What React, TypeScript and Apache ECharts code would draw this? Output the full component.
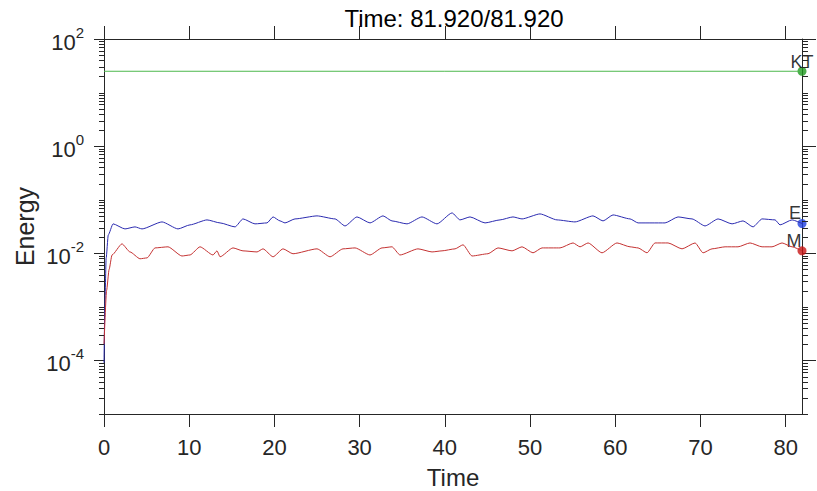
import React, { useEffect, useRef } from 'react';
import * as echarts from 'echarts';

const TITLE = 'Time: 81.920/81.920';
const X_NAME = 'Time';
const Y_NAME = 'Energy';
const X_MIN = 0;
const X_MAX = 81.92;
const Y_MIN = 1e-5;
const Y_MAX = 100;
const X_TICKS = [0, 10, 20, 30, 40, 50, 60, 70, 80];
const Y_LABEL_TICKS = [1e-4, 1e-2, 1, 100];

const E_TIME = [0, 0.1, 0.25, 0.5, 1.06, 2.46, 3.64, 4.46, 6.81, 8.69, 10.09, 12.09, 13.62, 15.38, 16.31, 17.72, 19.13, 19.84, 20.66, 21.24, 22.42, 25.0, 27.11, 28.29, 29.69, 31.22, 32.75, 33.8, 35.56, 37.32, 39.08, 40.85, 41.78, 42.96, 44.72, 46.48, 48.0, 49.06, 51.17, 53.17, 55.28, 57.39, 58.57, 59.74, 61.74, 62.68, 64.32, 65.85, 67.37, 69.01, 70.54, 72.07, 73.71, 75.0, 76.17, 77.23, 78.76, 79.34, 80.75, 81.92];
const E_VAL = [0.00009, 0.001, 0.008, 0.022, 0.0354, 0.0285, 0.0311, 0.0285, 0.0385, 0.0285, 0.0339, 0.042, 0.0369, 0.0311, 0.0438, 0.0354, 0.0369, 0.0477, 0.0402, 0.0369, 0.0438, 0.0499, 0.0438, 0.0324, 0.0477, 0.0369, 0.0499, 0.0402, 0.0354, 0.0477, 0.0354, 0.0567, 0.042, 0.0477, 0.0369, 0.042, 0.0477, 0.0438, 0.0543, 0.042, 0.0385, 0.0499, 0.0402, 0.052, 0.0438, 0.0369, 0.0369, 0.0369, 0.0477, 0.0438, 0.0324, 0.0438, 0.0354, 0.0402, 0.0311, 0.0438, 0.042, 0.0339, 0.042, 0.036];

const M_TIME = [0, 0.3, 0.6, 0.94, 2.11, 3.05, 4.23, 5.05, 5.99, 7.51, 9.15, 10.09, 11.27, 12.79, 13.26, 13.62, 15.14, 16.31, 17.96, 18.66, 19.84, 21.01, 22.18, 25.0, 26.53, 28.05, 29.46, 31.22, 32.63, 33.8, 34.74, 36.85, 38.5, 39.67, 41.2, 42.14, 43.19, 45.07, 46.24, 47.89, 49.06, 50.35, 51.41, 53.52, 55.05, 55.87, 56.81, 58.45, 60.21, 61.74, 62.68, 63.73, 64.67, 66.2, 67.84, 69.37, 70.31, 71.36, 72.89, 74.41, 75.82, 77.23, 78.4, 79.58, 80.75, 81.92];
const M_VAL = [0.0002, 0.002, 0.005, 0.0093, 0.015, 0.0106, 0.0079, 0.0082, 0.0126, 0.0132, 0.0089, 0.0093, 0.0132, 0.0093, 0.0111, 0.0086, 0.0126, 0.0111, 0.0106, 0.0121, 0.0086, 0.0121, 0.0098, 0.0121, 0.0086, 0.0121, 0.0126, 0.0093, 0.0126, 0.0132, 0.0093, 0.0121, 0.0106, 0.0111, 0.0121, 0.0144, 0.0089, 0.0098, 0.0126, 0.0111, 0.0132, 0.0102, 0.0126, 0.0126, 0.0156, 0.0132, 0.0156, 0.0102, 0.0156, 0.0132, 0.0126, 0.0102, 0.0156, 0.0156, 0.0121, 0.0156, 0.0102, 0.0121, 0.0132, 0.0132, 0.0156, 0.0132, 0.0132, 0.0156, 0.0132, 0.0111];

const KT_TIME = [0, 40, 81.92];
const KT_VAL = [25, 25, 25];

const END_LABELS = ['KT', 'E', 'M'];

const FONT = '"Liberation Sans", Arial, Helvetica, sans-serif';
const AXIS_COLOR = '#262626';

// minor tick values: 2..9 x 10^n, and the unlabelled decades
function minorTickValues(): number[] {
  const out: number[] = [];
  for (let n = -5; n <= 1; n++) {
    for (let k = 1; k <= 9; k++) {
      if (k === 1 && n % 2 === 0) continue;
      out.push(Number(`${k}e${n}`));
    }
  }
  return out;
}

export default function App() {
  const ref = useRef<HTMLDivElement>(null);

  useEffect(() => {
    document.body.style.margin = '0';
    if (!ref.current) return;
    const chart = echarts.init(ref.current, undefined, { renderer: 'svg' });
    const MINOR = minorTickValues();
    const pair = (t: number[], v: number[]) => t.map((x, i) => [x, v[i]]);

    // minor ticks drawn through the chart's own log scale (api.coord)
    const minorTickSeries = (xVal: number, dir: number, len: number) => ({
      type: 'custom',
      xAxisIndex: 0,
      yAxisIndex: 0,
      clip: false,
      silent: true,
      z: 5,
      data: MINOR.map((v) => [xVal, v]),
      renderItem: (_p: any, api: any) => {
        const c = api.coord([api.value(0), api.value(1)]);
        const x = Math.round(c[0]);
        const y = Math.round(c[1]) + 0.5;
        return {
          type: 'line',
          shape: { x1: x, y1: y, x2: x + dir * len, y2: y },
          style: { stroke: AXIS_COLOR, lineWidth: 1 },
        };
      },
    });

    const option: any = {
      animation: false,
      backgroundColor: '#ffffff',
      title: {
        text: TITLE,
        left: 454,
        textAlign: 'center',
        top: 6,
        padding: 0,
        textStyle: { fontSize: 24, fontWeight: 'normal', color: '#000', fontFamily: FONT },
      },
      grid: { left: 104, right: 15, top: 39, bottom: 77, containLabel: false, outerBoundsMode: 'none' },
      xAxis: [
        {
          type: 'value',
          min: X_MIN,
          max: X_MAX,
          position: 'bottom',
          name: X_NAME,
          nameLocation: 'middle',
          nameGap: 51,
          nameMoveOverlap: false,
          nameTextStyle: { fontSize: 24, color: AXIS_COLOR, fontFamily: FONT },
          axisLine: { show: true, onZero: false, lineStyle: { color: AXIS_COLOR, width: 1 } },
          axisTick: { show: true, customValues: X_TICKS, length: 13, lineStyle: { color: AXIS_COLOR } },
          axisLabel: { customValues: X_TICKS, margin: 22, fontSize: 22, color: AXIS_COLOR, fontFamily: FONT },
          splitLine: { show: false },
        },
        {
          type: 'value',
          min: X_MIN,
          max: X_MAX,
          position: 'top',
          axisLine: { show: true, onZero: false, lineStyle: { color: AXIS_COLOR, width: 1 } },
          axisTick: { show: true, customValues: X_TICKS, length: 13, lineStyle: { color: AXIS_COLOR } },
          axisLabel: { show: false },
          splitLine: { show: false },
        },
      ],
      yAxis: [
        {
          type: 'log',
          logBase: 10,
          min: Y_MIN,
          max: Y_MAX,
          position: 'left',
          splitLine: { show: false },
          name: Y_NAME,
          nameLocation: 'middle',
          nameGap: 67,
          nameMoveOverlap: false,
          nameTextStyle: { fontSize: 25, color: AXIS_COLOR, fontFamily: FONT },
          axisLine: { show: true, onZero: false, lineStyle: { color: AXIS_COLOR, width: 1 } },
          axisTick: { show: true, customValues: Y_LABEL_TICKS, length: 10, lineStyle: { color: AXIS_COLOR } },
          axisLabel: {
            customValues: Y_LABEL_TICKS,
            margin: 20,
            formatter: (v: number) => `{b|10}{s|${Math.round(Math.log10(v))}}`,
            rich: {
              b: { fontSize: 22, color: AXIS_COLOR, fontFamily: FONT, lineHeight: 28, verticalAlign: 'bottom' },
              s: { fontSize: 15, color: AXIS_COLOR, fontFamily: FONT, lineHeight: 16, verticalAlign: 'top' },
            },
          },
        },
        {
          type: 'log',
          logBase: 10,
          min: Y_MIN,
          max: Y_MAX,
          position: 'right',
          splitLine: { show: false },
          axisLine: { show: true, onZero: false, lineStyle: { color: AXIS_COLOR, width: 1 } },
          axisTick: { show: true, customValues: Y_LABEL_TICKS, length: 14, lineStyle: { color: AXIS_COLOR } },
          axisLabel: { show: false },
        },
      ],
      series: [
        minorTickSeries(X_MIN, -1, 5),
        minorTickSeries(X_MAX, 1, 6),
        {
          type: 'line',
          name: 'KT',
          data: pair(KT_TIME, KT_VAL),
          showSymbol: false,
          lineStyle: { color: '#4cb84c', width: 1 },
          itemStyle: { color: '#4cb84c' },
        },
        {
          type: 'line',
          name: 'E',
          data: pair(E_TIME, E_VAL),
          showSymbol: false,
          smooth: 0.2,
          smoothMonotone: 'x',
          lineStyle: { color: '#2b2bb0', width: 1 },
          itemStyle: { color: '#2b2bb0' },
        },
        {
          type: 'line',
          name: 'M',
          data: pair(M_TIME, M_VAL),
          showSymbol: false,
          smooth: 0.2,
          smoothMonotone: 'x',
          lineStyle: { color: '#c43232', width: 1 },
          itemStyle: { color: '#c43232' },
        },
        {
          type: 'scatter',
          clip: false,
          symbolSize: 9,
          data: [
            {
              value: [KT_TIME[KT_TIME.length - 1], KT_VAL[KT_VAL.length - 1]],
              itemStyle: { color: '#1f9a1f' },
              label: { formatter: END_LABELS[0], position: 'top', offset: [0, 9] },
            },
            {
              value: [E_TIME[E_TIME.length - 1], E_VAL[E_VAL.length - 1]],
              itemStyle: { color: '#1f3fe0' },
              label: { formatter: END_LABELS[1], position: 'top', offset: [-7, 8] },
            },
            {
              value: [M_TIME[M_TIME.length - 1], M_VAL[M_VAL.length - 1]],
              itemStyle: { color: '#c81414' },
              label: { formatter: END_LABELS[2], position: 'top', offset: [-8, 9] },
            },
          ],
          label: { show: true, color: '#000', fontSize: 18, fontFamily: FONT },
        },
      ],
    };

    chart.setOption(option);
    return () => chart.dispose();
  }, []);

  return <div ref={ref} style={{ width: 817, height: 491 }} />;
}
